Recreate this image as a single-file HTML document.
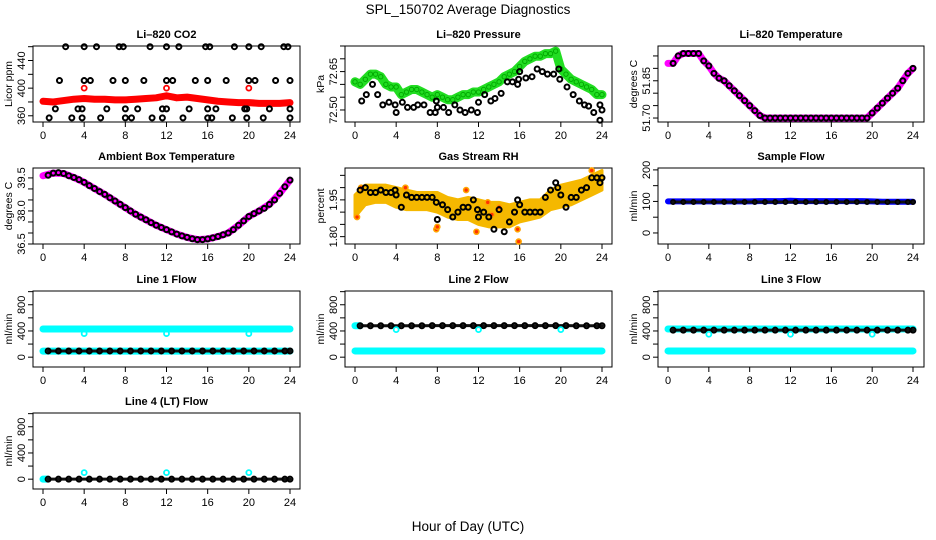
<!DOCTYPE html>
<html><head><meta charset="utf-8"><title>SPL_150702 Average Diagnostics</title>
<style>
html,body{margin:0;padding:0;background:#fff;}
svg{display:block;font-family:"Liberation Sans",Arial,sans-serif;}
</style></head>
<body>
<svg id="chart" width="936" height="540" viewBox="0 0 936 540" xmlns="http://www.w3.org/2000/svg">
<rect x="0" y="0" width="936" height="540" fill="#fff"/>
<text x="468" y="14" font-size="13.5" text-anchor="middle" fill="#000">SPL_150702  Average Diagnostics</text>
<text x="468" y="531" font-size="13.5" text-anchor="middle" fill="#000">Hour of Day (UTC)</text>
</svg>
<script>
// ---------- data ----------
const xTicks = [0,4,8,12,16,20,24];
const hours1 = [0,1,2,3,4,5,6,7,8,9,10,11,12,13,14,15,16,17,18,19,20,21,22,23,24];
const flowBlackHours = [0.5,1.5,2.5,3.5,4.5,5.5,6.5,7.5,8.5,9.5,10.5,11.5,12.5,13.5,14.5,15.5,16.5,17.5,18.5,19.5,20.5,21.5,22.5,23.5,24];

// CO2
const co2Red = [381,380,382,384,385,384,384,383,383,384,385,386,389,386,387,385,383,381,380,379,379,378,378,378,379];
const co2RedOutHours = [4,12,20];
const co2RedOutVals = [400,400,400];
const co2BlackHours = [2.2,4,5.2,7.4,7.8,10.4,12,13.2,15.8,16.2,18.6,20,21.2,23.4,23.8,
 1.6,4,4.6,6.8,8,9.8,12,12.6,14.8,16,17.8,20,20.6,22.6,24,
 1.2,3.4,3.8,6.2,8,9.2,11.6,12,14.2,16,16.8,19.6,19.8,22,24,
 0.6,2.8,3.8,5.6,8,8.6,10.6,11.6,13.6,16,16.4,18.4,19.8,21.4,24];
const co2BlackVals = [460,460,460,460,460,460,460,460,460,460,460,460,460,460,460,
 411,411,411,411,411,411,411,411,411,411,411,411,411,411,411,
 370,370,370,370,370,370,370,370,370,370,370,370,370,370,370,
 357,357,357,357,357,357,357,357,357,357,357,357,357,357,357];

// Pressure
const hoursHalf = [0,0.5,1,1.5,2,2.5,3,3.5,4,4.5,5,5.5,6,6.5,7,7.5,8,8.5,9,9.5,10,10.5,11,11.5,12,12.5,13,13.5,14,14.5,15,15.5,16,16.5,17,17.5,18,18.5,19,19.5,20,20.5,21,21.5,22,22.5,23,23.5,24];
const presGreen = [72.61,72.60,72.62,72.64,72.64,72.63,72.60,72.59,72.59,72.56,72.57,72.58,72.58,72.57,72.56,72.55,72.56,72.55,72.54,72.54,72.55,72.56,72.56,72.57,72.57,72.58,72.59,72.60,72.61,72.63,72.64,72.65,72.67,72.69,72.70,72.71,72.71,72.72,72.72,72.73,72.66,72.64,72.62,72.61,72.60,72.59,72.58,72.56,72.56];
const presBlackHours = [0.65,1.1,1.7,2.2,2.7,3.3,3.9,4.0,4.6,5.1,5.7,6.1,6.7,7.3,7.8,7.9,8.0,8.6,9.1,9.7,10.2,10.7,11.3,11.9,12.0,12.6,13.2,13.6,14.2,14.8,15.3,15.8,15.9,16.0,16.6,17.2,17.7,18.2,18.7,19.3,19.8,19.9,20.6,21.2,21.8,22.3,22.7,23.2,23.8,23.8,24.0];
const presBlackVals = [72.535,72.56,72.60,72.56,72.52,72.53,72.52,72.49,72.53,72.51,72.51,72.52,72.52,72.49,72.49,72.535,72.51,72.51,72.49,72.52,72.50,72.49,72.50,72.49,72.53,72.56,72.535,72.545,72.565,72.61,72.61,72.60,72.62,72.65,72.625,72.63,72.66,72.65,72.64,72.64,72.66,72.62,72.59,72.56,72.535,72.52,72.515,72.49,72.52,72.46,72.50];

// Li-820 Temperature
const tempPink = [51.92,51.92,51.95,51.96,51.96,51.96,51.96,51.93,51.91,51.88,51.86,51.85,51.83,51.81,51.79,51.77,51.75,51.73,51.71,
 51.70,51.70,51.70,51.70,51.70,51.70,51.70,51.70,51.70,51.70,51.70,51.70,51.70,51.70,51.70,51.70,51.70,51.70,51.70,51.70,51.70,
 51.72,51.74,51.76,51.78,51.80,51.82,51.85,51.88,51.90];
const tempBlack = [51.92,51.95,51.96,51.96,51.96,51.96,51.93,51.91,51.88,51.86,51.85,51.83,51.81,51.79,51.77,51.75,51.73,51.71,
 51.70,51.70,51.70,51.70,51.70,51.70,51.70,51.70,51.70,51.70,51.70,51.70,51.70,51.70,51.70,51.70,51.70,51.70,51.70,51.70,51.70,
 51.72,51.74,51.76,51.78,51.80,51.82,51.85,51.88,51.90];

// Ambient box temperature
const ambPink = [39.6,39.72,39.7,39.52,39.3,39.02,38.75,38.45,38.15,37.85,37.6,37.35,37.15,36.95,36.8,36.7,36.73,36.84,37.0,37.35,37.75,38.0,38.3,38.8,39.4];
const ambBlack = [39.62,39.72,39.74,39.7,39.6,39.52,39.42,39.3,39.15,39.02,38.88,38.75,38.6,38.45,38.3,38.15,38.0,37.85,37.72,37.6,37.47,37.35,37.25,37.15,37.05,36.95,36.87,36.8,36.74,36.7,36.7,36.73,36.78,36.84,36.92,37.0,37.15,37.35,37.55,37.75,37.88,38.0,38.12,38.3,38.5,38.8,39.1,39.4];

// Gas stream RH
const rhHi = [1.97,2.01,2.01,2.01,2.00,1.99,1.98,1.98,1.98,1.96,1.95,1.96,1.95,1.94,1.94,1.93,1.94,1.95,1.95,1.99,2.01,2.02,2.03,2.05,2.07];
const rhLo = [1.88,1.93,1.94,1.94,1.92,1.91,1.91,1.91,1.90,1.88,1.87,1.87,1.85,1.84,1.84,1.84,1.86,1.87,1.88,1.91,1.92,1.93,1.95,1.97,1.99];
const rhOutHours = [0.2,0.6,7.9,8.0,11.8,15.9,15.8,10.8,4.9,23.0,13.3,12.9,14.0];
const rhOutVals = [1.88,2.00,1.83,1.84,1.82,1.78,1.83,1.99,2.00,2.07,1.89,1.94,1.92];
const rhBlackHours = [0.5,1,1.5,2,2.5,3,3.5,3.9,4,4.5,5,5.5,6,6.5,7,7.5,7.9,8,8.5,9,9.5,10,10.5,11,11.5,11.9,12,12.5,13,13.5,14,14.5,15,15.5,15.8,16,16.5,17,17.5,18,18.5,19,19.5,19.7,20,20.5,21,21.5,22,22.5,23,23.5,23.8,24];
const rhBlackVals = [1.99,2.00,1.98,1.98,1.99,1.98,1.98,1.99,1.97,1.92,1.97,1.96,1.96,1.96,1.96,1.96,1.94,1.87,1.93,1.91,1.88,1.90,1.92,1.92,1.95,1.91,1.88,1.90,1.88,1.83,1.91,1.82,1.86,1.90,1.95,1.93,1.90,1.90,1.90,1.90,1.96,1.99,2.02,2.0,1.97,1.92,1.96,1.96,1.99,2.00,2.04,2.04,2.02,2.04];

// Sample flow
const sampleBlue = [100,100,100,100,100,100,100,100,100,101,101,101,102,101,101,101,101,101,101,101,100,99,99,99,99];
const sampleBlack = [98,98,98,98,98,98,98,98,98,98,98,98,98,98,98,98,98,98,98,98,98,98,98,98,98];

// Line flows
const l1CyanHi = [430,430,430,430,430,430,430,430,430,430,430,430,430,430,430,430,430,430,430,430,430,430,430,430,430];
const l1CyanLo = [92,92,92,92,92,92,92,92,92,92,92,92,92,92,92,92,92,92,92,92,92,92,92,92,92];
const l1Black = [95,95,95,95,95,95,95,95,95,95,95,95,95,95,95,95,95,95,95,95,95,95,95,95,95];
const l2Black = [480,480,480,480,480,480,480,482,482,482,482,482,482,482,482,482,482,482,482,482,482,480,480,480,480];
const l2Cyan = [95,95,95,95,95,95,95,95,95,95,95,95,95,95,95,95,95,95,95,95,95,95,95,95,95];
const l3CyanHi = [430,430,430,430,430,430,430,430,430,430,430,430,430,430,430,430,430,430,430,430,430,430,430,430,430];
const l3Black = [412,412,412,412,412,412,412,412,412,412,412,412,412,412,412,412,412,412,412,412,412,412,412,412,412];
const l3CyanLo = [95,95,95,95,95,95,95,95,95,95,95,95,95,95,95,95,95,95,95,95,95,95,95,95,95];
const l4Black = [0,0,0,0,0,0,0,0,0,0,0,0,0,0,0,0,0,0,0,0,0,0,0,0,0];
const l4Cyan = [0,0,0,0,0,0,0,0,0,0,0,0,0,0,0,0,0,0,0,0,0,0,0,0,0];
const outHours = [4,12,20];
const l1CyanOut = [360,360,360];
const l2CyanOut = [420,420,420];
const l3CyanOut = [350,350,350];
const l4CyanOut = [100,100,100];

// ---------- drawing ----------
const NS = "http://www.w3.org/2000/svg";
const svg = document.getElementById('chart');
const cols = [{L:33,R:300,x0:43,x24:290},{L:345,R:612,x0:355,x24:602},{L:658,R:924,x0:668,x24:913}];
const rowTop = [46,168,291,413];
const PH = 76;

function mk(tag, parent){ const e = document.createElementNS(NS, tag); parent.appendChild(e); return e; }

function panel(c, r, ymin, ymax, yt, ylabs, title, ylab, name){
  const C = cols[c], top = rowTop[r], bot = top + PH;
  const g = mk('g', svg);
  
  
  const sx = h => C.x0 + (C.x24 - C.x0) * h / 24;
  const sy = v => bot - (v - ymin) / (ymax - ymin) * PH;
  const box = mk('rect', g);
  box.setAttribute('x', C.L); box.setAttribute('y', top); box.setAttribute('width', C.R - C.L); box.setAttribute('height', PH);
  box.setAttribute('fill', 'none'); box.setAttribute('stroke', '#000'); box.setAttribute('stroke-width', '1');
  
  
  const t = mk('text', g);
  t.textContent = title;
  t.setAttribute('x', (C.L + C.R) / 2); t.setAttribute('y', top - 8);
  t.setAttribute('font-size', '11'); t.setAttribute('font-weight', 'bold'); t.setAttribute('text-anchor', 'middle');
  
  
  const yl = mk('text', g);
  yl.textContent = ylab;
  const ylx = C.L - 24, yly = (top + bot) / 2;
  yl.setAttribute('x', ylx); yl.setAttribute('y', yly);
  yl.setAttribute('font-size', '10.5'); yl.setAttribute('text-anchor', 'middle'); yl.setAttribute('dominant-baseline', 'central');
  yl.setAttribute('transform', 'rotate(-90 ' + ylx + ' ' + yly + ')');
  
  
  xTicks.forEach(h => {
    const tk = mk('line', g);
    tk.setAttribute('x1', sx(h)); tk.setAttribute('x2', sx(h)); tk.setAttribute('y1', bot); tk.setAttribute('y2', bot + 5);
    tk.setAttribute('stroke', '#000');
    
    
    const lb = mk('text', g);
    lb.textContent = String(h);
    lb.setAttribute('x', sx(h)); lb.setAttribute('y', bot + 17);
    lb.setAttribute('font-size', '11'); lb.setAttribute('text-anchor', 'middle');
    
    
  });
  yt.forEach((v, i) => {
    const y = sy(v);
    const tk = mk('line', g);
    tk.setAttribute('x1', C.L - 5); tk.setAttribute('x2', C.L); tk.setAttribute('y1', y); tk.setAttribute('y2', y);
    tk.setAttribute('stroke', '#000');
    
    
    if (ylabs[i]) {
      const lb = mk('text', g);
      lb.textContent = ylabs[i];
      const lx = C.L - 11;
      lb.setAttribute('x', lx); lb.setAttribute('y', y);
      lb.setAttribute('font-size', '11'); lb.setAttribute('text-anchor', 'middle'); lb.setAttribute('dominant-baseline', 'central');
      lb.setAttribute('transform', 'rotate(-90 ' + lx + ' ' + y + ')');
      
      
    }
  });
  const clip = mk('g', g);
  
  
  return {sx, sy, g: clip};
}

function band(P, hs, vs, color, width, nm){
  const pl = mk('polyline', P.g);
  pl.setAttribute('points', hs.map((h, i) => P.sx(h) + ',' + P.sy(vs[i])).join(' '));
  pl.setAttribute('fill', 'none'); pl.setAttribute('stroke', color); pl.setAttribute('stroke-width', width);
  pl.setAttribute('stroke-linejoin', 'round'); pl.setAttribute('stroke-linecap', 'round');
  
  
}
function pts(P, hs, vs, color, r, sw, nm, fill){
  hs.forEach((h, i) => {
    const c = mk('circle', P.g);
    c.setAttribute('cx', P.sx(h)); c.setAttribute('cy', P.sy(vs[i])); c.setAttribute('r', r);
    c.setAttribute('fill', fill || 'none'); c.setAttribute('stroke', color); c.setAttribute('stroke-width', sw);
    
    
  });
}
function area(P, hs, hi, lo, color, nm){
  const p = mk('polygon', P.g);
  const a = hs.map((h, i) => P.sx(h) + ',' + P.sy(hi[i]));
  const b = hs.slice().reverse().map((h, j) => P.sx(h) + ',' + P.sy(lo[hs.length - 1 - j]));
  p.setAttribute('points', a.concat(b).join(' '));
  p.setAttribute('fill', color); p.setAttribute('stroke', color); p.setAttribute('stroke-width', '3'); p.setAttribute('stroke-linejoin', 'round');
  
  
}
const blackHalf = hoursHalf.slice(1);
const BR = 2.5, BW = 2;

// CO2
let P = panel(0, 0, 351, 461, [360,380,400,420,440,460], ['360','','400','','440',''], 'Li\u2013820 CO2', 'Licor ppm', 'co2');
band(P, hours1, co2Red, '#ff0000', 7, 'co2-red-series');
pts(P, co2RedOutHours, co2RedOutVals, '#ff0000', 2.5, 1.8, 'co2-red-outlier');
pts(P, co2BlackHours, co2BlackVals, '#000', BR, BW, 'co2-black-point');

// Pressure
P = panel(1, 0, 72.453, 72.75, [72.50,72.55,72.60,72.65,72.70,72.75], ['72.50','','','72.65','',''], 'Li\u2013820 Pressure', 'kPa', 'pressure');
band(P, hoursHalf, presGreen, '#22dd22', 9, 'pressure-green-series');
pts(P, hoursHalf, presGreen, '#00aa00', 2.2, 1, 'pressure-green-point');
pts(P, presBlackHours, presBlackVals, '#000', BR, BW, 'pressure-black-point');

// Li-820 Temperature
P = panel(2, 0, 51.684, 51.99, [51.70,51.75,51.80,51.85,51.90,51.95], ['51.70','','','51.85','',''], 'Li\u2013820 Temperature', 'degrees C', 'li820-temp');
band(P, hoursHalf, tempPink, '#ff00ff', 7, 'li820-temp-magenta-series');
pts(P, blackHalf, tempBlack, '#000', BR, BW, 'li820-temp-black-point');

// Ambient
P = panel(0, 1, 36.5, 39.95, [36.5,37.0,37.5,38.0,38.5,39.0,39.5], ['36.5','','','38.0','','','39.5'], 'Ambient Box Temperature', 'degrees C', 'ambient-temp');
band(P, hours1, ambPink, '#ff00ff', 7, 'ambient-magenta-series');
pts(P, blackHalf, ambBlack, '#000', BR, BW, 'ambient-black-point');

// RH
P = panel(1, 1, 1.77, 2.08, [1.80,1.85,1.90,1.95,2.00,2.05], ['1.80','','','1.95','',''], 'Gas Stream RH', 'percent', 'rh');
area(P, hours1, rhHi, rhLo, '#f5b800', 'rh-orange-band');
pts(P, rhOutHours, rhOutVals, '#ffa500', 2.5, 1.6, 'rh-orange-point', '#ff3300');
pts(P, rhBlackHours, rhBlackVals, '#000', BR, BW, 'rh-black-point');

// Sample flow
P = panel(2, 1, -35, 206, [0,50,100,150,200], ['0','','100','','200'], 'Sample Flow', 'ml/min', 'sample-flow');
band(P, hours1, sampleBlue, '#0000ff', 6, 'sample-flow-blue-series');
band(P, flowBlackHours, sampleBlack, '#111', 3, 'sample-flow-black-series');
pts(P, flowBlackHours, sampleBlack, '#000', 2.2, 1.6, 'sample-flow-black-point');

// Line flows
const fT = [0,200,400,600,800,1000], fL = ['0','','400','','800',''];
P = panel(0, 2, -150, 1010, fT, fL, 'Line 1 Flow', 'ml/min', 'line1-flow');
band(P, hours1, l1CyanHi, '#00ffff', 7, 'line1-cyan-high-series');
band(P, hours1, l1CyanLo, '#00ffff', 7, 'line1-cyan-low-series');
band(P, flowBlackHours, l1Black, '#111', 3, 'line1-black-series');
pts(P, flowBlackHours, l1Black, '#000', BR, BW, 'line1-black-point');
pts(P, outHours, l1CyanOut, '#00ffff', 2.5, 1.8, 'line1-cyan-outlier');

P = panel(1, 2, -150, 1010, fT, fL, 'Line 2 Flow', 'ml/min', 'line2-flow');
band(P, hours1, l2Cyan, '#00ffff', 7, 'line2-cyan-series');
band(P, [0,0.5], [l2Black[0], l2Black[0]], '#00ffff', 7, 'line2-cyan-start');
band(P, flowBlackHours, l2Black, '#111', 3, 'line2-black-series');
pts(P, flowBlackHours, l2Black, '#000', BR, BW, 'line2-black-point');
pts(P, outHours, l2CyanOut, '#00ffff', 2.5, 1.8, 'line2-cyan-outlier');

P = panel(2, 2, -150, 1010, fT, fL, 'Line 3 Flow', 'ml/min', 'line3-flow');
band(P, hours1, l3CyanHi, '#00ffff', 7, 'line3-cyan-high-series');
band(P, hours1, l3CyanLo, '#00ffff', 7, 'line3-cyan-low-series');
band(P, flowBlackHours, l3Black, '#111', 3, 'line3-black-series');
pts(P, flowBlackHours, l3Black, '#000', BR, BW, 'line3-black-point');
pts(P, outHours, l3CyanOut, '#00ffff', 2.5, 1.8, 'line3-cyan-outlier');

P = panel(0, 3, -150, 1010, fT, fL, 'Line 4 (LT) Flow', 'ml/min', 'line4-flow');
band(P, [0,0.4], [l4Cyan[0], l4Cyan[0]], '#00ffff', 7, 'line4-cyan-series');
band(P, flowBlackHours, l4Black, '#111', 3, 'line4-black-series');
pts(P, flowBlackHours, l4Black, '#000', BR, BW, 'line4-black-point');
pts(P, outHours, l4CyanOut, '#00ffff', 2.5, 1.8, 'line4-cyan-outlier');
</script>
</body></html>
